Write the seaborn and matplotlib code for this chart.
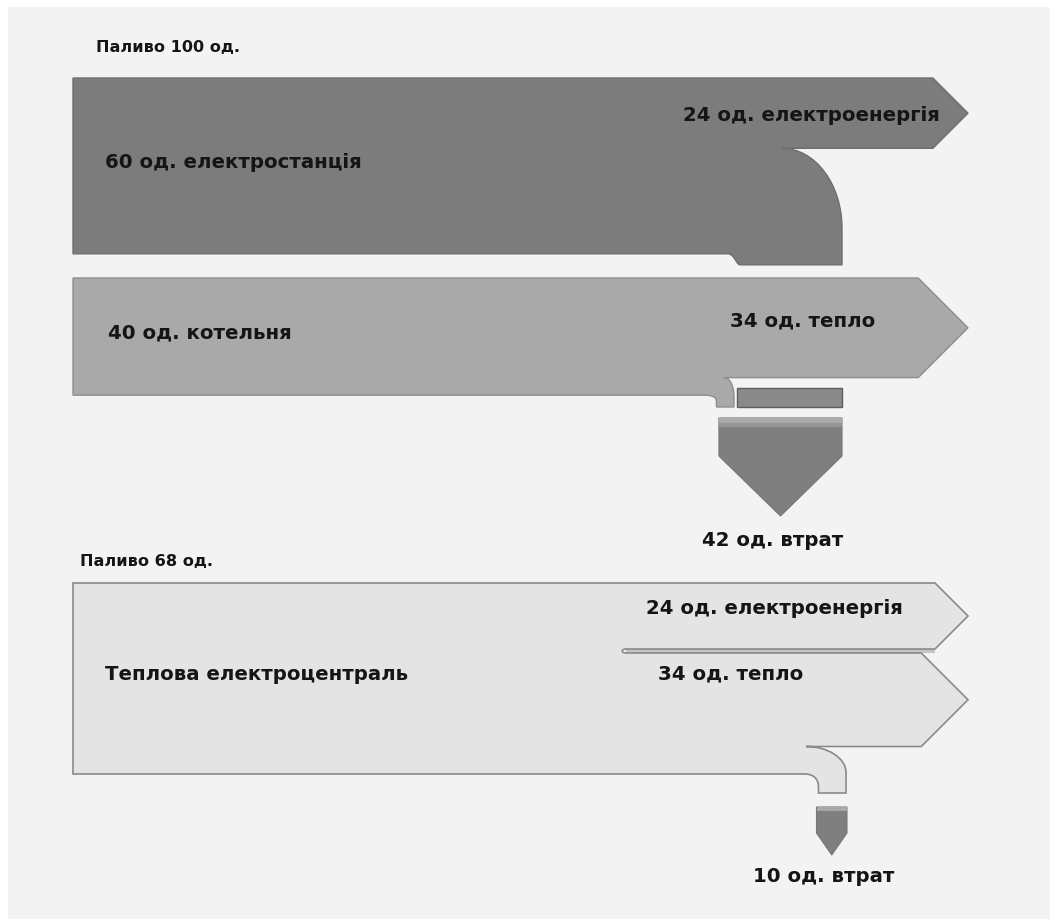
import matplotlib
matplotlib.use("Agg")
import matplotlib.pyplot as plt
from matplotlib.path import Path
from matplotlib.patches import PathPatch, Rectangle
import seaborn as sns

# дані (одиниці енергії)
separate_inputs = [60, 40]          # електростанція, котельня
separate_outputs = [24, 34]         # електроенергія, тепло
separate_losses = [36, 6]           # втрати електростанції, котельні
separate_fuel = 100
chp_fuel = 68
chp_outputs = [24, 34, 10]          # електроенергія, тепло, втрати

input_names = ["електростанція", "котельня"]
output_names = ["електроенергія", "тепло"]

sns.set_theme(style="white")
plt.rcParams['font.family'] = ['DejaVu Sans']

W, H = 1050, 919
fig = plt.figure(figsize=(W / 100, H / 100), dpi=100, facecolor="white")
ax = fig.add_axes([0, 0, 1, 1])
ax.set_xlim(0, W)
ax.set_ylim(H, 0)
ax.axis("off")
ax.add_patch(Rectangle((8, 7), W - 8, H - 7, facecolor="#f3f3f3", edgecolor="none"))

S_TOP = 2.93   # пікселів на одиницю (верхня схема)
S_CHP = 2.75   # пікселів на одиницю (ТЕЦ)
X0 = 73
TIP = 968
TXT = "#151515"
FS = 14.2      # підписи всередині потоків
FS_T = 11.6    # заголовки "Паливо ..."

pal = {"station": "#7c7c7c", "boiler": "#a9a9a9", "chp": "#e4e4e4",
       "loss": "#7f7f7f", "edge": "#6a6a6a"}


def draw(verts, codes, fc, ec, lw=1.0, z=2):
    ax.add_patch(PathPatch(Path(verts, codes), facecolor=fc, edgecolor=ec, lw=lw, zorder=z))


def label(x, y, s, ha="left", fs=FS):
    ax.text(x, y, s, ha=ha, va="center", fontsize=fs, fontweight="bold", color=TXT, zorder=5)


def quarter(x1, y1, x2, y2):
    # чверть еліпса: з горизонталі в (x1,y1) до вертикалі в (x2,y2)
    k = 0.552
    return [(x1 + (x2 - x1) * k, y1), (x2, y2 - (y2 - y1) * k), (x2, y2)]


M, L, C, Z = Path.MOVETO, Path.LINETO, Path.CURVE4, Path.CLOSEPOLY

# ---- електростанція ----
y0 = 78
yb = y0 + separate_inputs[0] * S_TOP
ye = y0 + separate_outputs[0] * S_TOP
half = (ye - y0) / 2
xr = 842
xl = xr - separate_losses[0] * S_TOP
ych = yb + 11
v = [(X0, y0), (TIP - half, y0), (TIP, y0 + half), (TIP - half, ye), (xr - 60, ye)]
c = [M, L, L, L, L]
v += quarter(xr - 60, ye, xr, ye + 80); c += [C, C, C]
v += [(xr, ych), (xl + 3, ych), (xl - 1, ych - 2), (xl - 2, yb + 1), (xl - 8, yb), (X0, yb), (X0, y0)]
c += [L, L, C, C, C, L, Z]
draw(v, c, pal["station"], "#6e6e6e")
label(940, y0 + half + 2, f"{separate_outputs[0]} од. {output_names[0]}", ha="right")
label(105, 163, f"{separate_inputs[0]} од. {input_names[0]}")
label(96, 47, f"Паливо {separate_fuel} од.", fs=FS_T)

# ---- котельня ----
y0 = 278
yb2 = y0 + separate_inputs[1] * S_TOP
ye = y0 + separate_outputs[1] * S_TOP
half = (ye - y0) / 2
xr2 = 734
xl2 = xr2 - separate_losses[1] * S_TOP
ych2 = 407
v = [(X0, y0), (TIP - half, y0), (TIP, y0 + half), (TIP - half, ye), (xr2 - 10, ye),
     (xr2 - 4, ye), (xr2, ye + 8), (xr2, ye + 20), (xr2, ych2), (xl2, ych2), (xl2, yb2 + 6),
     (xl2, yb2 + 2), (xl2 - 4, yb2), (xl2 - 12, yb2), (X0, yb2), (X0, y0)]
c = [M, L, L, L, L, C, C, C, L, L, L, C, C, C, L, Z]
draw(v, c, pal["boiler"], "#8e8e8e")
label(108, 333, f"{separate_inputs[1]} од. {input_names[1]}")
label(875, 321, f"{separate_outputs[1]} од. {output_names[1]}", ha="right")

# втрати електростанції (смуга) і спільний блок втрат
ax.add_patch(Rectangle((xl, 388), separate_losses[0] * S_TOP, 19, facecolor="#8a8a8a",
                       edgecolor="#5e5e5e", lw=1, zorder=2))
total_loss = sum(separate_losses)
bw = total_loss * S_TOP
bx = xr - bw
top, rb = 418, 456
v = [(bx, top), (xr, top), (xr, rb), (bx + bw / 2, rb + 60), (bx, rb), (bx, top)]
draw(v, [M, L, L, L, L, Z], pal["loss"], "#777777", lw=0.8)
ax.add_patch(Rectangle((bx, top), bw, 5, facecolor="#aaaaaa", edgecolor="none", zorder=3))
ax.add_patch(Rectangle((bx, top + 5), bw, 4, facecolor="#969696", edgecolor="none", zorder=3))
label(773, 540, f"{total_loss} од. втрат", ha="center")

# ---- ТЕЦ ----
y0 = 583
gap = 4
ye = y0 + chp_outputs[0] * S_CHP
yh = ye + gap
yhe = yh + chp_outputs[1] * S_CHP
yb3 = yhe + chp_outputs[2] * S_CHP
h1 = (ye - y0) / 2
h2 = (yhe - yh) / 2
xr3 = 846
xl3 = xr3 - chp_outputs[2] * S_CHP
ych3 = 793
gx = 626
v = [(X0, y0), (TIP - h1, y0), (TIP, y0 + h1), (TIP - h1, ye), (gx, ye),
     (gx - 5, ye), (gx - 5, yh), (gx, yh), (TIP - h2, yh), (TIP, yh + h2), (TIP - h2, yhe),
     (xr3 - 40, yhe)]
c = [M, L, L, L, L, C, C, C, L, L, L, L]
v += quarter(xr3 - 40, yhe, xr3, yhe + 26); c += [C, C, C]
v += [(xr3, ych3), (xl3, ych3), (xl3, ych3 - 6), (xl3, yb3 + 6), (xl3 - 4, yb3), (xl3 - 14, yb3),
      (X0, yb3), (X0, y0)]
c += [L, L, L, C, C, C, L, Z]
ax.add_patch(Rectangle((gx, ye), TIP - h1 - gx, gap, facecolor="#c4c4c4", edgecolor="none", zorder=1))
draw(v, c, pal["chp"], "#8a8a8a", lw=1.2)
label(80, 562, f"Паливо {chp_fuel} од.", fs=FS_T)
label(903, 609, f"{chp_outputs[0]} од. {output_names[0]}", ha="right")
label(803, 674, f"{chp_outputs[1]} од. {output_names[1]}", ha="right")
label(105, 674, "Теплова електроцентраль")

bw3 = chp_outputs[2] * S_CHP + 3
bx3 = xr3 + 1 - bw3
top3, rb3 = 807, 833
v = [(bx3, top3), (bx3 + bw3, top3), (bx3 + bw3, rb3), (bx3 + bw3 / 2, rb3 + 22), (bx3, rb3), (bx3, top3)]
draw(v, [M, L, L, L, L, Z], pal["loss"], "#777777", lw=0.8)
ax.add_patch(Rectangle((bx3, top3), bw3, 4, facecolor="#a8a8a8", edgecolor="none", zorder=3))
label(824, 876, f"{chp_outputs[2]} од. втрат", ha="center")

fig.savefig("out.png", dpi=100, facecolor=fig.get_facecolor())
